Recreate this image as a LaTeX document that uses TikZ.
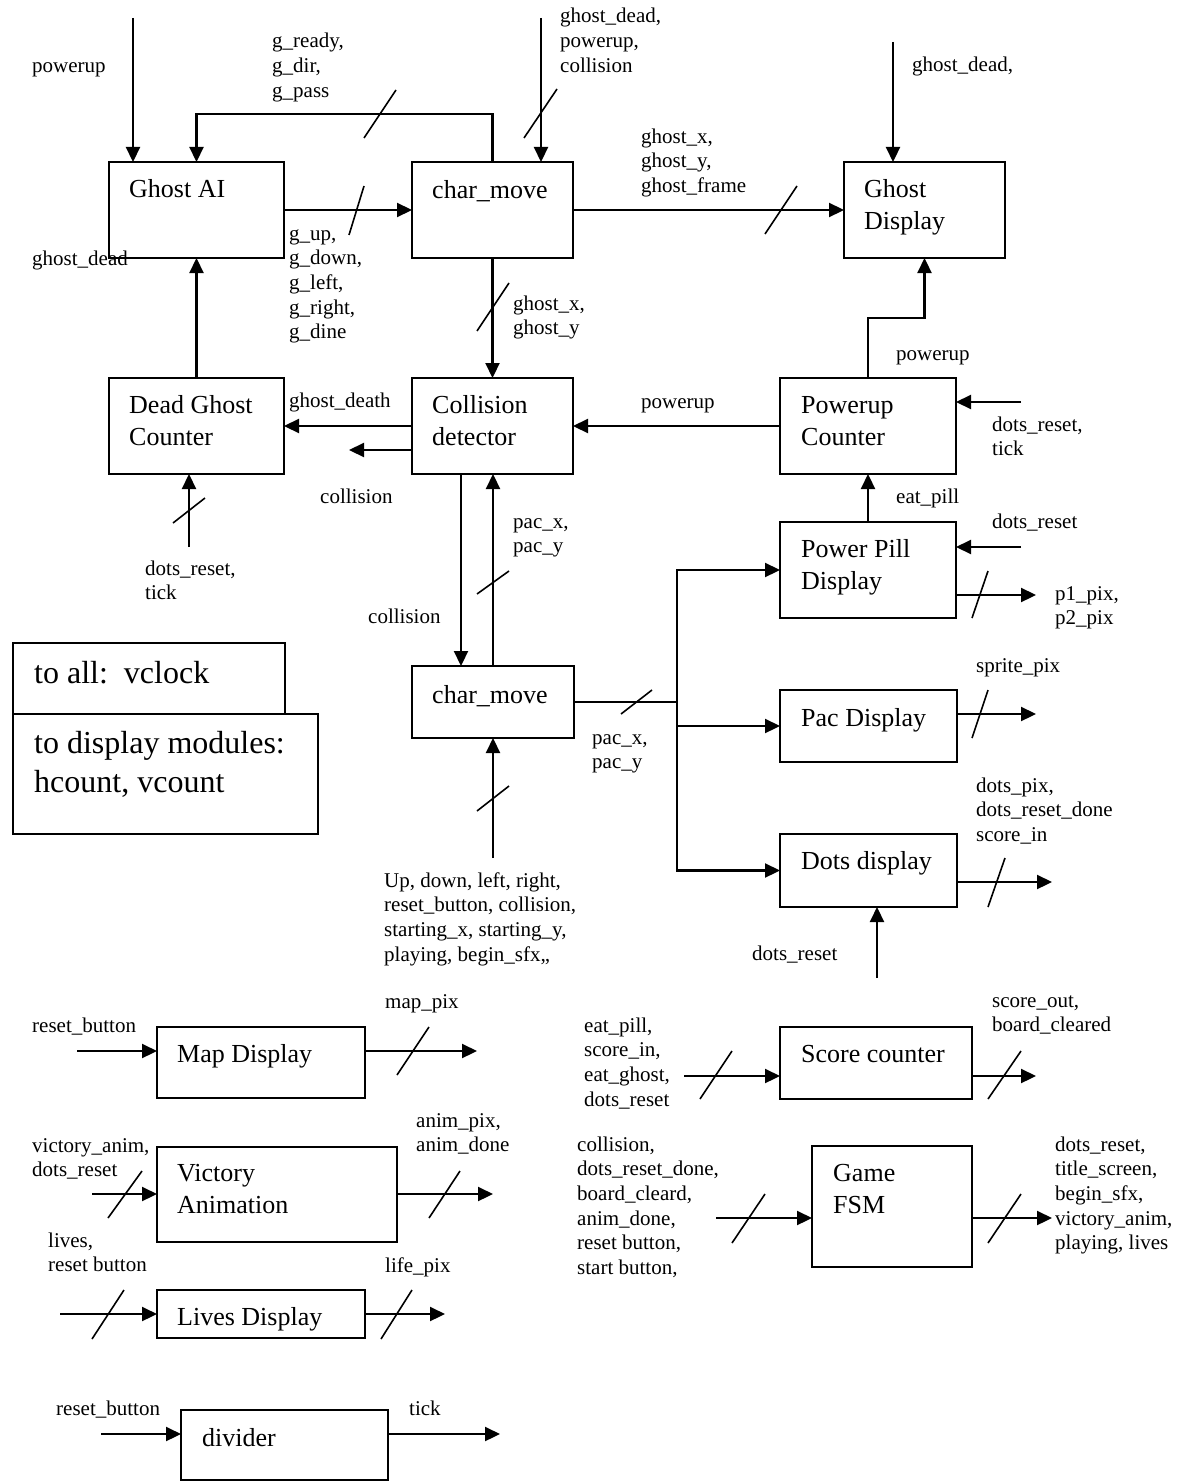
\documentclass[tikz,border=0pt]{standalone}
\usepackage{fontspec}
\setmainfont{Liberation Serif}
\usetikzlibrary{arrows.meta}
\newcommand\blkbox[5]{\node[blk, minimum width={#4-#2}, minimum height={#5-#3}] (#1) at ({(#2+#4)/2},{(#3+#5)/2}) {};}
\newcommand\slsh[4]{\draw[tick] (#1,#2) -- (#3,#4);}
\begin{document}
\begin{tikzpicture}[x=1pt,y=-1pt,
 blk/.style={draw, line width=2.2pt, inner sep=0pt, outer sep=0pt},
 arr/.style={line width=2.2pt, -{Triangle[length=15pt,width=14pt]}},
 wire/.style={line width=2.2pt},
 tick/.style={line width=1.6pt},
 sm/.style={font=\fontsize{21}{24.7}\selectfont, inner sep=0pt, anchor=base west, align=left},
 bt/.style={font=\fontsize{26}{32}\selectfont, inner sep=0pt, anchor=base west, align=left},
 ht/.style={font=\fontsize{32}{39}\selectfont, inner sep=0pt, anchor=base west, align=left}]
\useasboundingbox[fill=white] (0,0) rectangle (1178,1482);

% boxes
\blkbox{gai}{109}{162}{284}{258}
\blkbox{cmA}{412}{162}{573}{258}
\blkbox{gd}{844}{162}{1005}{258}
\blkbox{dgc}{109}{378}{284}{474}
\blkbox{cd}{412}{378}{573}{474}
\blkbox{pc}{780}{378}{956}{474}
\blkbox{ppd}{780}{522}{956}{618}
\blkbox{cmB}{412}{666}{574}{738}
\blkbox{pd}{780}{690}{957}{762}
\blkbox{dd}{780}{834}{957}{907}
\blkbox{clkA}{13}{643}{285}{714}
\blkbox{clkB}{13}{714}{318}{834}
\blkbox{md}{157}{1027}{365}{1098}
\blkbox{va}{157}{1147}{397}{1242}
\blkbox{ld}{157}{1290}{365}{1338}
\blkbox{dv}{181}{1410}{388}{1480}
\blkbox{sc}{780}{1027}{972}{1099}
\blkbox{fsm}{812}{1146}{972}{1267}

% box texts (anchor = baseline of last line)
\node[bt] (tgai) at (129,197) {Ghost AI};
\node[bt] (tcmA) at (432,198) {char\_move};
\node[bt] (tgd) at (864,229) {Ghost\\Display};
\node[bt] (tdgc) at (129,445) {Dead Ghost\\Counter};
\node[bt] (tcd) at (432,445) {Collision\\detector};
\node[bt] (tpc) at (801,445) {Powerup\\Counter};
\node[bt] (tppd) at (801,589) {Power Pill\\Display};
\node[bt] (tcmB) at (432,703) {char\_move};
\node[bt] (tpd) at (801,726) {Pac Display};
\node[bt] (tdd) at (801,869) {Dots display};
\node[ht] (tclkA) at (34,683) {to all:\ \ vclock};
\node[ht] (tclkB) at (34,792) {to display modules:\\hcount, vcount};
\node[bt] (tmd) at (177,1062) {Map Display};
\node[bt] (tva) at (177,1213) {Victory\\Animation};
\node[bt] (tld) at (177,1325) {Lives Display};
\node[bt] (tdv) at (202,1446) {divider};
\node[bt] (tsc) at (801,1062) {Score counter};
\node[bt] (tfsm) at (833,1213) {Game\\FSM};

% labels (anchor = baseline of last line)
\node[sm] (l1) at (32,73) {powerup};
\node[sm] (l2) at (272,97.4) {g\_ready,\\g\_dir,\\g\_pass};
\node[sm] (l3) at (560,72.4) {ghost\_dead,\\powerup,\\collision};
\node[sm] (l4) at (912,72) {ghost\_dead,};
\node[sm] (l5) at (641,192.4) {ghost\_x,\\ghost\_y,\\ghost\_frame};
\node[sm] (l6) at (289,338.8) {g\_up,\\g\_down,\\g\_left,\\g\_right,\\g\_dine};
\node[sm] (l7) at (32,265) {ghost\_dead};
\node[sm] (l8) at (513,334.7) {ghost\_x,\\ghost\_y};
\node[sm] (l9) at (896,360) {powerup};
\node[sm] (l10) at (289,407) {ghost\_death};
\node[sm] (l11) at (641,408) {powerup};
\node[sm] (l12) at (992,455.7) {dots\_reset,\\tick};
\node[sm] (l13) at (320,503) {collision};
\node[sm] (l14) at (896,503) {eat\_pill};
\node[sm] (l15) at (992,528) {dots\_reset};
\node[sm] (l16) at (513,552.7) {pac\_x,\\pac\_y};
\node[sm] (l17) at (145,599.7) {dots\_reset,\\tick};
\node[sm] (l18) at (1055,624.7) {p1\_pix,\\p2\_pix};
\node[sm] (l19) at (368,623) {collision};
\node[sm] (l20) at (976,672) {sprite\_pix};
\node[sm] (l21) at (592,768.7) {pac\_x,\\pac\_y};
\node[sm] (l22) at (976,841.4) {dots\_pix,\\dots\_reset\_done\\score\_in};
\node[sm] (l23) at (384,961.1) {Up, down, left, right,\\reset\_button, collision,\\starting\_x, starting\_y,\\playing, begin\_sfx,,};
\node[sm] (l24) at (752,960) {dots\_reset};
\node[sm] (l25) at (385,1008) {map\_pix};
\node[sm] (l26) at (32,1032) {reset\_button};
\node[sm] (l27) at (584,1106.1) {eat\_pill,\\score\_in,\\eat\_ghost,\\dots\_reset};
\node[sm] (l28) at (992,1031.7) {score\_out,\\board\_cleared};
\node[sm] (l29) at (416,1151.7) {anim\_pix,\\anim\_done};
\node[sm] (l30) at (32,1176.7) {victory\_anim,\\dots\_reset};
\node[sm] (l31) at (577,1274.5) {collision,\\dots\_reset\_done,\\board\_cleard,\\anim\_done,\\reset button,\\start button,};
\node[sm] (l32) at (1055,1249.8) {dots\_reset,\\title\_screen,\\begin\_sfx,\\victory\_anim,\\playing, lives};
\node[sm] (l33) at (48,1271.7) {lives,\\reset button};
\node[sm] (l34) at (385,1272) {life\_pix};
\node[sm] (l35) at (56,1415) {reset\_button};
\node[sm] (l36) at (409,1415) {tick};

% connectors
\coordinate (iPw) at (133,18);
\draw[arr] (iPw) -- (iPw |- gai.north);
\draw[arr] (cmA.north) -- ++(0,-48) -| (gai.north);
\coordinate (iCm) at (541,18);
\draw[arr] (iCm) -- (iCm |- cmA.north);
\draw[arr] (gai.east) -- (cmA.west);
\draw[arr] (cmA.east) -- (gd.west);
\coordinate (iGd) at (893,42);
\draw[arr] (iGd) -- (iGd |- gd.north);
\draw[arr] (cmA.south) -- (cd.north);
\draw[arr] (dgc.north) -- (gai.south);
\draw[arr] (cd.west) -- (dgc.east);
\coordinate (oCol) at (349,450);
\draw[arr] (cd.west |- oCol) -- (oCol);
\draw[arr] (pc.west) -- (cd.east);
\draw[arr] (pc.north) -- ++(0,-60) -| (gd.south);
\coordinate (iPc) at (1021,402);
\draw[arr] (iPc) -- (pc.east |- iPc);
\draw[arr] (ppd.north) -- (pc.south);
\coordinate (iPpd) at (1021,547);
\draw[arr] (iPpd) -- (ppd.east |- iPpd);
\coordinate (oPpd) at (1036,595);
\draw[arr] (ppd.east |- oPpd) -- (oPpd);
\coordinate (iDgc) at (189,547);
\draw[arr] (iDgc) -- (iDgc |- dgc.south);
\coordinate (xCol) at (461,0);
\draw[arr] (cd.south -| xCol) -- (cmB.north -| xCol);
\draw[arr] (cmB.north) -- (cmB.north |- cd.south);
\coordinate (iCmB) at (493,858);
\draw[arr] (iCmB) -- (cmB.south);
\coordinate (bus) at (677,702);
\draw[wire] (cmB.east) -- (bus);
\draw[arr] (bus) |- (ppd.west);
\draw[arr] (bus) |- (dd.west);
\draw[arr] (bus |- pd.west) -- (pd.west);
\coordinate (oPd) at (1036,714);
\draw[arr] (pd.east |- oPd) -- (oPd);
\coordinate (oDd) at (1052,882);
\draw[arr] (dd.east |- oDd) -- (oDd);
\coordinate (iDd) at (877,978);
\draw[arr] (iDd) -- (iDd |- dd.south);
\coordinate (iMd) at (77,1051);
\draw[arr] (iMd) -- (md.west |- iMd);
\coordinate (oMd) at (477,1051);
\draw[arr] (md.east |- oMd) -- (oMd);
\coordinate (iVa) at (92,1194);
\draw[arr] (iVa) -- (va.west |- iVa);
\coordinate (oVa) at (493,1194);
\draw[arr] (va.east |- oVa) -- (oVa);
\coordinate (iLd) at (60,1314);
\draw[arr] (iLd) -- (ld.west |- iLd);
\coordinate (oLd) at (445,1314);
\draw[arr] (ld.east |- oLd) -- (oLd);
\coordinate (iDv) at (101,1434);
\draw[arr] (iDv) -- (dv.west |- iDv);
\coordinate (oDv) at (500,1434);
\draw[arr] (dv.east |- oDv) -- (oDv);
\coordinate (iSc) at (684,1076);
\draw[arr] (iSc) -- (sc.west |- iSc);
\coordinate (oSc) at (1036,1076);
\draw[arr] (sc.east |- oSc) -- (oSc);
\coordinate (iFsm) at (716,1218);
\draw[arr] (iFsm) -- (fsm.west |- iFsm);
\coordinate (oFsm) at (1052,1218);
\draw[arr] (fsm.east |- oFsm) -- (oFsm);

% bus-width slashes
\slsh{396}{90}{364}{138}
\slsh{557}{89}{524}{138}
\slsh{364}{186}{349}{235}
\slsh{797}{186}{765}{234}
\slsh{509}{283}{477}{331}
\slsh{205}{498}{173}{523}
\slsh{509}{571}{477}{594}
\slsh{988}{571}{972}{618}
\slsh{509}{786}{477}{811}
\slsh{652}{690}{621}{714}
\slsh{988}{690}{972}{738}
\slsh{1005}{858}{988}{907}
\slsh{429}{1027}{397}{1075}
\slsh{142}{1171}{108}{1218}
\slsh{460}{1171}{429}{1218}
\slsh{124}{1290}{92}{1339}
\slsh{412}{1290}{381}{1339}
\slsh{732}{1051}{700}{1099}
\slsh{1021}{1051}{988}{1099}
\slsh{765}{1194}{732}{1243}
\slsh{1021}{1194}{988}{1243}
\end{tikzpicture}
\end{document}
